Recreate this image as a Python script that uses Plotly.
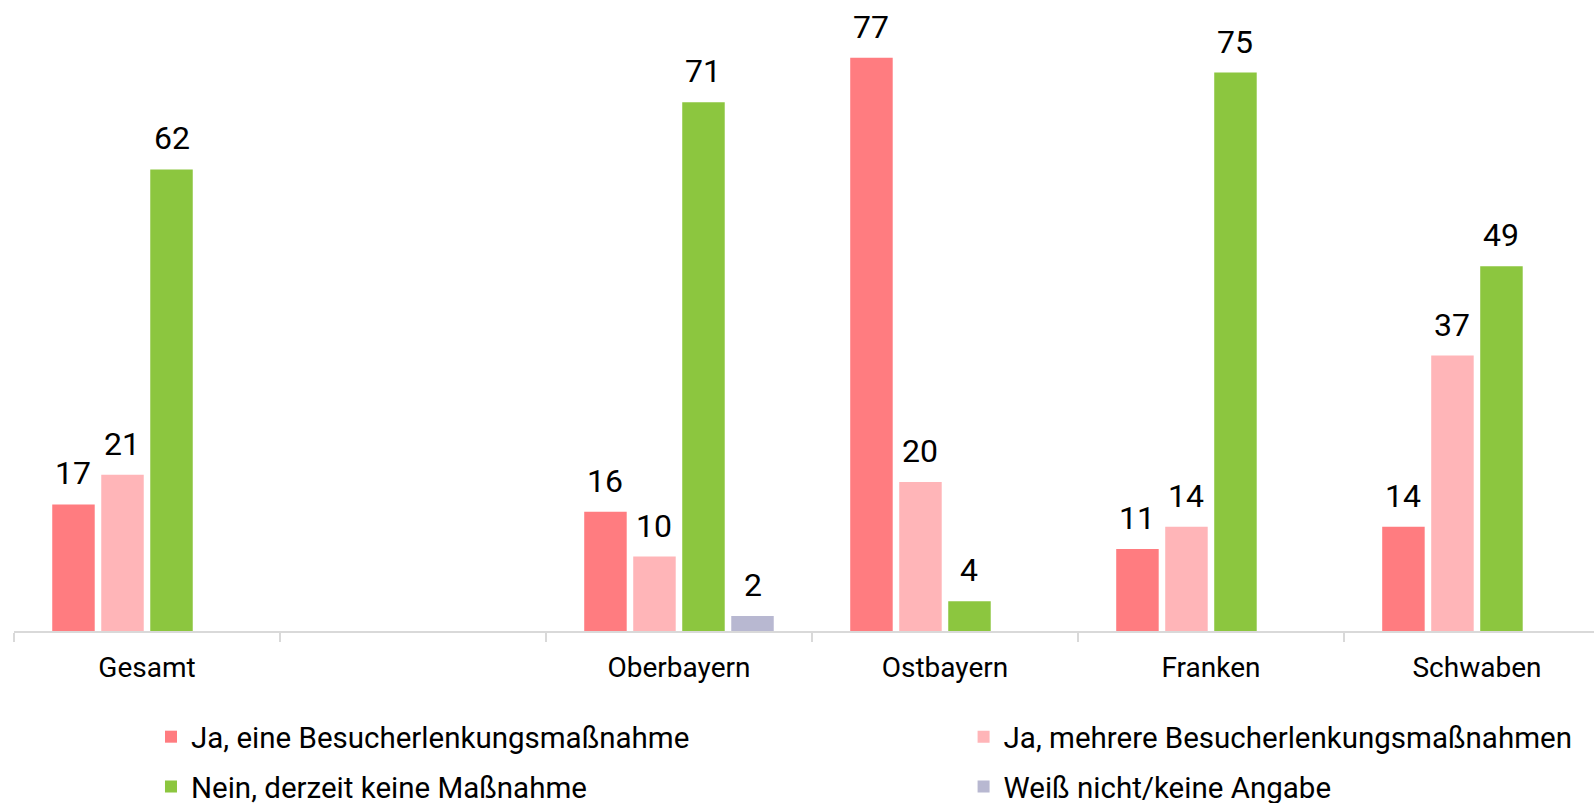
import plotly.graph_objects as go

categories = ["Gesamt", " ", "Oberbayern", "Ostbayern", "Franken", "Schwaben"]
series_names = [
    "Ja, eine Besucherlenkungsmaßnahme",
    "Ja, mehrere Besucherlenkungsmaßnahmen",
    "Nein, derzeit keine Maßnahme",
    "Weiß nicht/keine Angabe",
]
ja_eine = [17, None, 16, 77, 11, 14]
ja_mehrere = [21, None, 10, 20, 14, 37]
nein = [62, None, 71, 4, 75, 49]
weiss_nicht = [None, None, 2, None, None, None]
series_values = [ja_eine, ja_mehrere, nein, weiss_nicht]
colors = ["#FF7C80", "#FFB5B8", "#8CC63F", "#B8B8D1"]
legend_ids = ["legend", "legend2", "legend3", "legend4"]

BARGAP = 0.263
FONT = "Roboto"

fig = go.Figure()
for name, vals, col, lg in zip(series_names, series_values, colors, legend_ids):
    fig.add_trace(go.Bar(
        x=categories, y=vals, name=name, marker=dict(color=col, line=dict(width=0)),
        legend=lg, hoverinfo="skip",
    ))

n = len(series_values)
slot = (1 - BARGAP) / n
annotations = []
for j, vals in enumerate(series_values):
    for i, v in enumerate(vals):
        if v is None:
            continue
        annotations.append(dict(
            x=i + (j - (n - 1) / 2) * slot, y=v, xref="x", yref="y",
            text=str(v), showarrow=False, yanchor="bottom", yshift=10,
            font=dict(family=FONT, size=32, color="#000000"),
        ))

def legend_box(x, y):
    return dict(
        orientation="h", x=x, xanchor="left", y=y, yanchor="middle",
        font=dict(family=FONT, size=29.5, color="#000000"),
        bgcolor="rgba(0,0,0,0)", borderwidth=0,
        itemclick=False, itemdoubleclick=False,
    )

fig.update_layout(
    width=1594, height=803,
    margin=dict(l=14, r=0, t=0, b=172, autoexpand=False),
    paper_bgcolor="white", plot_bgcolor="white",
    barmode="group", bargap=BARGAP, bargroupgap=0.133,
    font=dict(family=FONT, color="#000000"),
    annotations=annotations,
    xaxis=dict(
        type="category", categoryorder="array", categoryarray=categories,
        range=[-0.5, 5.44], tickson="boundaries", ticks="outside", ticklen=9,
        tickcolor="#D9D9D9", tickwidth=2, showline=True, linecolor="#D9D9D9",
        linewidth=2, showgrid=False, ticklabelstandoff=10,
        tickfont=dict(family=FONT, size=28, color="#000000"),
        fixedrange=True,
    ),
    yaxis=dict(visible=False, range=[0, 84.75], fixedrange=True),
    legend=legend_box(0.0867, -0.168),
    legend2=legend_box(0.601, -0.168),
    legend3=legend_box(0.0867, -0.247),
    legend4=legend_box(0.601, -0.247),
    showlegend=True,
)

fig.write_html(
    "out.html",
    config={"displayModeBar": False},
    post_script="document.body.style.margin='0px';document.body.style.overflow='hidden';",
)
